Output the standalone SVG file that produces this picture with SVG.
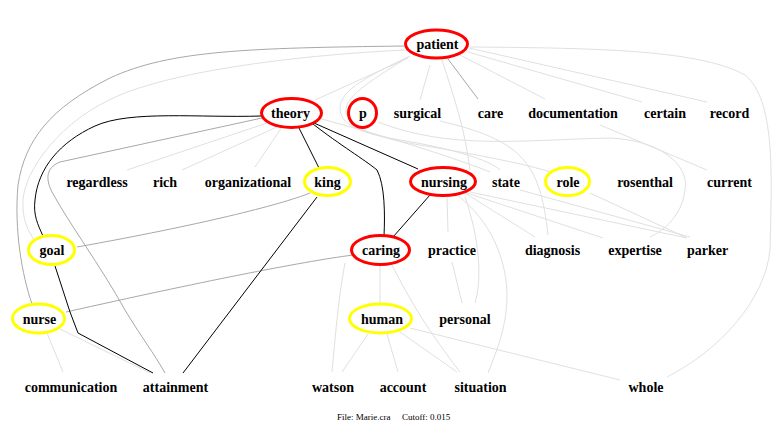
<svg xmlns="http://www.w3.org/2000/svg" width="780" height="431" viewBox="0 0 780 431">
<style>
text{font-family:"Liberation Serif","Times New Roman",serif;font-size:14px;font-weight:bold;fill:#000;text-anchor:middle}
.foot{font-size:9px;font-weight:normal;text-anchor:start}
.ring-red{fill:none;stroke:#ff0000;stroke-width:3}
.ring-yel{fill:none;stroke:#ffff00;stroke-width:3}
.e{fill:none}
.k{stroke:#000;stroke-width:1}
.m{stroke:#a8a8a8;stroke-width:1}
.l{stroke:#e0e0e0;stroke-width:1}
</style>
<rect width="780" height="431" fill="#fff"/>
<g id="connectors" class="e">
  <path class="l" d="M405,50 C300,55 180,70 120,95 C60,120 25,170 23,200 C22,220 28,230 34,240"/>
  <path class="l" d="M408,58 L315,100"/>
  <path class="l" d="M430,65 L420,100"/>
  <path class="l" d="M460,55 L545,99"/>
  <path class="l" d="M468,52 L642,102"/>
  <path class="l" d="M469,48 L707,102"/>
  <path class="l" d="M470,47 C600,48 700,50 745,75 C775,100 772,170 770,250 C765,300 720,350 667,377"/>
  <path class="l" d="M408,57 C370,75 340,90 340,108 C340,125 360,133 400,140 C450,148 490,160 500,170"/>
  <path class="l" d="M410,56 C375,78 346,95 346,110 C346,125 370,137 420,145 C480,155 530,165 550,172"/>
  <path class="l" d="M442,60 C455,100 465,130 470,170"/>
  <path class="l" d="M267,123 L127,170"/>
  <path class="l" d="M277,127 L182,170"/>
  <path class="l" d="M282,127 L255,167"/>
  <path class="l" d="M318,118 C400,140 460,160 490,172"/>
  <path class="l" d="M447,197 L448,232"/>
  <path class="l" d="M465,193 L535,237"/>
  <path class="l" d="M467,193 L603,238"/>
  <path class="l" d="M470,192 L687,238"/>
  <path class="l" d="M458,196 C490,220 508,260 507,300 C506,330 495,355 488,373"/>
  <path class="l" d="M452,262 L462,303"/>
  <path class="l" d="M465,197 C480,240 482,280 475,303"/>
  <path class="l" d="M380,265 L380,304"/>
  <path class="l" d="M345,263 C338,300 335,340 332,372"/>
  <path class="l" d="M392,265 C405,290 420,320 460,372"/>
  <path class="l" d="M368,334 L342,372"/>
  <path class="l" d="M387,334 L398,372"/>
  <path class="l" d="M400,332 L457,372"/>
  <path class="l" d="M410,328 L620,380"/>
  <path class="l" d="M590,193 L687,238"/>
  <path class="l" d="M520,190 L690,237"/>
  <path class="l" d="M600,125 L707,170"/>
  <path class="l" d="M378,122 C450,150 520,140 610,138 C660,140 690,165 685,190 C682,215 665,230 650,237"/>
  <path class="l" d="M440,121 C520,140 540,160 548,235"/>
  <path class="l" d="M47,333 L63,372"/>
  <path class="l" d="M60,329 L150,373"/>
  <path class="m" d="M404,46 C250,48 170,50 110,78 C50,108 25,140 18,185 C14,230 22,275 32,304"/>
  <path class="m" d="M262,118 L60,162 C45,168 46,180 52,192 C70,225 100,265 125,310 C140,335 155,355 165,373"/>
  <path class="m" d="M310,193 C280,205 200,225 77,247"/>
  <path class="m" d="M353,255 C300,262 200,282 66,312"/>
  <path class="m" d="M448,59 L478,99"/>
  <path class="k" d="M261,116 C200,118 130,110 95,126 C60,142 38,168 35,200 C33,215 38,225 43,236"/>
  <path class="k" d="M55,266 L70,312 L78,333 L153,373"/>
  <path class="k" d="M317,197 L183,373"/>
  <path class="k" d="M299,128 L319,168"/>
  <path class="k" d="M313,124 C340,145 365,160 377,170 C385,185 385,215 384,236"/>
  <path class="k" d="M314,123 L418,169"/>
  <path class="k" d="M430,195 L393,237"/>
</g>
<g id="patient"><ellipse class="ring-red" cx="436.5" cy="44" rx="31" ry="14"/><text x="437.5" y="49">patient</text></g>
<g id="theory"><ellipse class="ring-red" cx="291.5" cy="113" rx="30" ry="14.5"/><text x="290.5" y="118">theory</text></g>
<g id="p"><ellipse class="ring-red" cx="362.5" cy="113" rx="14" ry="14.5"/><text x="363" y="118">p</text></g>
<g id="surgical"><text x="417.5" y="118">surgical</text></g>
<g id="care"><text x="490.5" y="118">care</text></g>
<g id="documentation"><text x="573" y="118">documentation</text></g>
<g id="certain"><text x="665" y="118">certain</text></g>
<g id="record"><text x="729.5" y="118">record</text></g>
<g id="regardless"><text x="97" y="187">regardless</text></g>
<g id="rich"><text x="165" y="187">rich</text></g>
<g id="organizational"><text x="248" y="187">organizational</text></g>
<g id="king"><ellipse class="ring-yel" cx="327.5" cy="181.5" rx="23" ry="14"/><text x="327.5" y="187">king</text></g>
<g id="nursing"><ellipse class="ring-red" cx="443" cy="181.5" rx="32.5" ry="14"/><text x="444" y="187">nursing</text></g>
<g id="state"><text x="506" y="187">state</text></g>
<g id="role"><ellipse class="ring-yel" cx="567.5" cy="181.5" rx="22" ry="14"/><text x="568" y="187">role</text></g>
<g id="rosenthal"><text x="645" y="187">rosenthal</text></g>
<g id="current"><text x="729.5" y="187">current</text></g>
<g id="goal"><ellipse class="ring-yel" cx="51.5" cy="250" rx="23" ry="14.5"/><text x="52" y="255">goal</text></g>
<g id="caring"><ellipse class="ring-red" cx="380.5" cy="250" rx="29" ry="14.5"/><text x="381" y="255">caring</text></g>
<g id="practice"><text x="452" y="255">practice</text></g>
<g id="diagnosis"><text x="552.5" y="255">diagnosis</text></g>
<g id="expertise"><text x="635" y="255">expertise</text></g>
<g id="parker"><text x="707.5" y="255">parker</text></g>
<g id="nurse"><ellipse class="ring-yel" cx="38.5" cy="318.5" rx="26" ry="14.5"/><text x="39.5" y="323.5">nurse</text></g>
<g id="human"><ellipse class="ring-yel" cx="380.5" cy="318.5" rx="31" ry="14.5"/><text x="382" y="323.5">human</text></g>
<g id="personal"><text x="465" y="323.5">personal</text></g>
<g id="communication"><text x="71" y="392">communication</text></g>
<g id="attainment"><text x="175.5" y="392">attainment</text></g>
<g id="watson"><text x="333" y="392">watson</text></g>
<g id="account"><text x="403" y="392">account</text></g>
<g id="situation"><text x="480.5" y="392">situation</text></g>
<g id="whole"><text x="646" y="392">whole</text></g>
<g id="footer"><text class="foot" x="337" y="420">File: Marie.cra</text><text class="foot" x="402" y="420">Cutoff: 0.015</text></g>
</svg>
